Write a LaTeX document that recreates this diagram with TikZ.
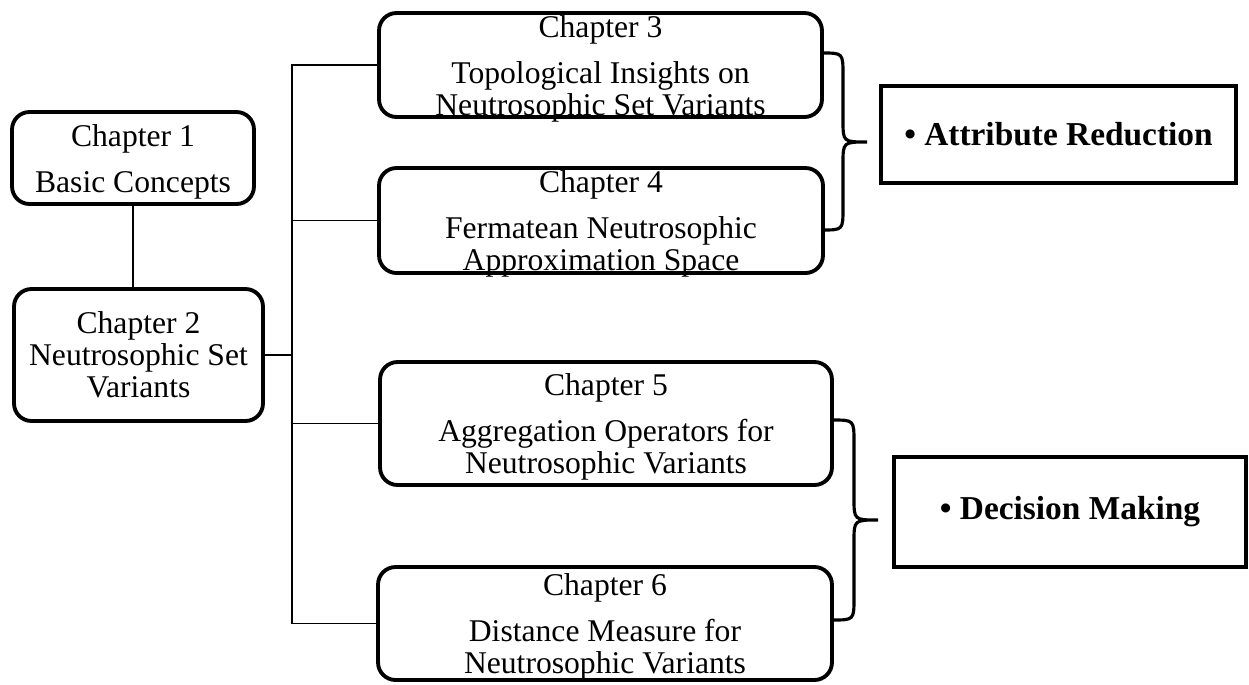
\documentclass[tikz,border=0pt]{standalone}
\usepackage{fontspec}
\setmainfont{Liberation Serif}

\begin{document}
\begin{tikzpicture}[x=0.02cm, y=-0.02cm,
		chapbox/.style={shape=rectangle, draw, line width=2.2pt, rounded corners=0.35cm, inner sep=0pt},
		chaptext/.style={align=center, font=\fontsize{18}{18.2}\selectfont, inner sep=0pt},
		gaptext/.style={chaptext, yshift=-0.07cm},
		goalbox/.style={shape=rectangle, draw, line width=2.2pt, font=\fontsize{19}{22}\selectfont\bfseries, inner sep=0pt},
		link/.style={line width=1.1pt},
		brace/.style={line width=1.8pt}]
			\useasboundingbox (0, 0) rectangle (1249, 684);
			\node[chapbox, minimum width=4.84cm, minimum height=1.84cm, label={[gaptext]center:{Chapter 1\\[8pt]Basic Concepts}}] (c1) at (133, 158){};
			\node[chapbox, minimum width=4.98cm, minimum height=2.64cm, label={[chaptext]center:{Chapter 2\\Neutrosophic Set\\Variants}}] (c2) at (138.5, 355){};
			\node[chapbox, minimum width=8.86cm, minimum height=2.08cm, label={[gaptext]center:{Chapter 3\\[8pt]Topological Insights on\\Neutrosophic Set Variants}}] (c3) at (600.5, 65){};
			\node[chapbox, minimum width=8.88cm, minimum height=2.10cm, label={[gaptext]center:{Chapter 4\\[8pt]Fermatean Neutrosophic\\Approximation Space}}] (c4) at (601, 220.5){};
			\node[chapbox, minimum width=9.04cm, minimum height=2.46cm, label={[gaptext]center:{Chapter 5\\[8pt]Aggregation Operators for\\Neutrosophic Variants}}] (c5) at (606, 423.5){};
			\node[chapbox, minimum width=9.08cm, minimum height=2.26cm, label={[gaptext]center:{Chapter 6\\[8pt]Distance Measure for\\Neutrosophic Variants}}] (c6) at (605, 623.5){};
			\node[goalbox, minimum width=7.10cm, minimum height=1.94cm] (ar) at (1058.5, 134.5){• Attribute Reduction};
			\node[goalbox, minimum width=7.04cm, minimum height=2.20cm] (dm) at (1070, 512){• Decision Making};
			\coordinate (trunk) at (292, 355);
			\draw[link] (c1.south) -- (c1.south |- c2.north);
			\draw[line width=1.6pt] (c2.east) -- (trunk);
			\draw[link] (c3.west) -- (c3.west -| trunk) -- (c6.west -| trunk) -- (c6.west);
			\draw[link] (c4.west) -- (c4.west -| trunk);
			\draw[link] (c5.west) -- (c5.west -| trunk);
			\draw[brace] (822, 53) .. controls (843, 53) .. (843, 75) -- (843, 120) .. controls (843, 142) .. (867, 142) .. controls (843, 142) .. (843, 164) -- (843, 208) .. controls (843, 230) .. (822, 230);
			\draw[brace] (832, 420) .. controls (854, 420) .. (854, 442) -- (854, 498) .. controls (854, 520) .. (878, 520) .. controls (854, 520) .. (854, 542) -- (854, 598) .. controls (854, 620) .. (832, 620);
		\end{tikzpicture}
\end{document}
